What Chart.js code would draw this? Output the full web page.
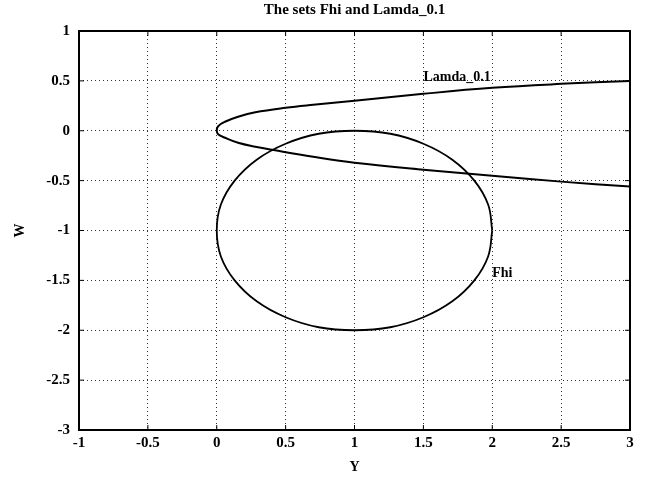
<!DOCTYPE html>
<html>
<head>
<meta charset="utf-8">
<script src="https://cdn.jsdelivr.net/npm/chart.js@4/dist/chart.umd.min.js"></script>
<style>
  html, body { margin: 0; padding: 0; background: #fff; }
  #wrap { width: 646px; height: 485px; }
</style>
</head>
<body>
<div id="wrap"><canvas id="setsChart"></canvas></div>
<script>
// values
const lamdaX = [3, 2.5, 2, 1.5, 1, 0.7, 0.5, 0.28, 0.155, 0.06, 0.01, 0.0,
                0.01, 0.06, 0.155, 0.28, 0.4, 0.7, 1, 1.5, 2, 2.5, 3];
const lamdaY = [0.50, 0.47, 0.43, 0.37, 0.30, 0.26, 0.23, 0.185, 0.14, 0.09, 0.045, 0.0,
                -0.035, -0.07, -0.12, -0.16, -0.19, -0.26, -0.32, -0.39, -0.45, -0.51, -0.56];

const fhiX = [2.00, 1.97, 1.87, 1.71, 1.50, 1.26, 1.00, 0.74, 0.50, 0.29, 0.13, 0.03, 0.00,
              0.03, 0.13, 0.29, 0.50, 0.74, 1.00, 1.26, 1.50, 1.71, 1.87, 1.97, 2.00];
const fhiY = [-1.00, -0.74, -0.50, -0.29, -0.13, -0.03, 0.00, -0.03, -0.13, -0.29, -0.50, -0.74, -1.00,
              -1.26, -1.50, -1.71, -1.87, -1.97, -2.00, -1.97, -1.87, -1.71, -1.50, -1.26, -1.00];

const xTicks = [-1, -0.5, 0, 0.5, 1, 1.5, 2, 2.5, 3];
const yTicks = [1, 0.5, 0, -0.5, -1, -1.5, -2, -2.5, -3];

const titleText = 'The sets Fhi and Lamda_0.1';
const lamdaLabel = 'Lamda_0.1';
const fhiLabel = 'Fhi';

const serif = '"Liberation Serif", "DejaVu Serif", serif';

function toPoints(xs, ys) {
    return xs.map(function (x, i) { return { x: x, y: ys[i] }; });
}

// frame, inner ticks and the curve labels
const framePlugin = {
    id: 'frame',
    afterDraw: function (chart) {
        const ctx = chart.ctx;
        const a = chart.chartArea;
        const xs = chart.scales.x;
        const ys = chart.scales.y;
        ctx.save();
        ctx.strokeStyle = '#000';
        ctx.lineWidth = 1;
        ctx.beginPath();
        xTicks.forEach(function (v) {
            const px = xs.getPixelForValue(v);
            ctx.moveTo(px, a.bottom); ctx.lineTo(px, a.bottom - 5);
            ctx.moveTo(px, a.top); ctx.lineTo(px, a.top + 5);
        });
        yTicks.forEach(function (v) {
            const py = ys.getPixelForValue(v);
            ctx.moveTo(a.left, py); ctx.lineTo(a.left + 5, py);
            ctx.moveTo(a.right, py); ctx.lineTo(a.right - 5, py);
        });
        ctx.stroke();
        ctx.lineWidth = 2;
        ctx.strokeRect(a.left, a.top, a.right - a.left, a.bottom - a.top);

        ctx.fillStyle = '#000';
        ctx.font = 'bold 14px ' + serif;
        ctx.textAlign = 'left';
        ctx.textBaseline = 'alphabetic';
        ctx.fillText(lamdaLabel, xs.getPixelForValue(1.5), ys.getPixelForValue(0.5));
        ctx.fillText(fhiLabel, xs.getPixelForValue(2.0), ys.getPixelForValue(-1.47));
        ctx.restore();
    }
};

const ctx = document.getElementById('setsChart').getContext('2d');

const data = {
    datasets: [{
        label: lamdaLabel,
        data: toPoints(lamdaX, lamdaY),
        showLine: true,
        borderColor: '#000',
        borderWidth: 2,
        pointRadius: 0,
        tension: 0.4,
    }, {
        label: fhiLabel,
        data: toPoints(fhiX, fhiY),
        showLine: true,
        borderColor: '#000',
        borderWidth: 1.8,
        pointRadius: 0,
        tension: 0.4,
    }],
};

const tickFont = { family: serif, size: 15, weight: 'bold', lineHeight: 1.2 };

const config = {
    type: 'scatter',
    data: data,
    plugins: [framePlugin],
    options: {
        responsive: true,
        maintainAspectRatio: false,
        animation: false,
        layout: { padding: { left: 0, right: 16, top: 0, bottom: 0 } },
        plugins: {
            legend: { display: false },
            tooltip: { enabled: false },
            title: {
                display: true,
                text: titleText,
                fullSize: false,
                color: '#000',
                font: { family: serif, size: 15, weight: 'bold', lineHeight: 1.2 },
                padding: { top: 1, bottom: 12 },
            },
        },
        scales: {
            x: {
                type: 'linear',
                min: -1,
                max: 3,
                afterFit: function (scale) { scale.height = 55; },
                afterBuildTicks: function (scale) {
                    scale.ticks = xTicks.map(function (v) { return { value: v }; });
                },
                ticks: {
                    color: '#000',
                    padding: 4,
                    maxRotation: 0,
                    font: tickFont,
                    callback: function (v) { return String(v); },
                },
                grid: { color: '#333', lineWidth: 1, drawTicks: false },
                border: { display: false, dash: [1, 3] },
                title: {
                    display: true,
                    text: 'Y',
                    color: '#000',
                    font: { family: serif, size: 14, weight: 'bold', lineHeight: 1.2 },
                    padding: { top: 0, bottom: 9 },
                },
            },
            y: {
                type: 'linear',
                min: -3,
                max: 1,
                afterFit: function (scale) { scale.width = 79; },
                afterBuildTicks: function (scale) {
                    scale.ticks = yTicks.map(function (v) { return { value: v }; });
                },
                ticks: {
                    color: '#000',
                    padding: 9,
                    font: tickFont,
                    callback: function (v) { return String(v); },
                },
                grid: { color: '#333', lineWidth: 1, drawTicks: false },
                border: { display: false, dash: [1, 3] },
                title: {
                    display: true,
                    text: 'W',
                    color: '#000',
                    font: { family: serif, size: 14, weight: 'bold', lineHeight: 1.2 },
                    padding: { top: 12, bottom: 0 },
                },
            },
        },
    },
};

const setsChart = new Chart(ctx, config);
</script>
</body>
</html>
